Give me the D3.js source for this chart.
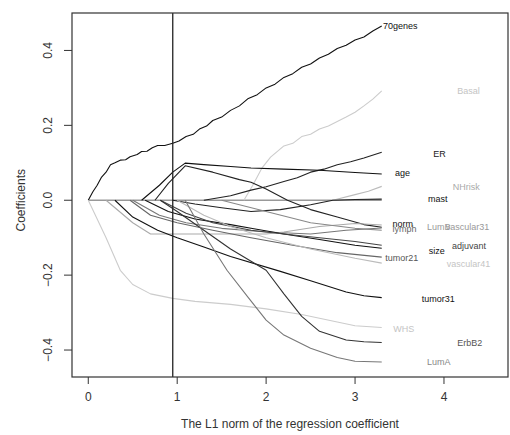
<!DOCTYPE html>
<html lang="en">
<head>
  <meta charset="utf-8" />
  <title>Coefficient paths</title>
  <script src="https://cdn.jsdelivr.net/npm/d3@7"></script>
  <style>
body{
  margin: 0;
  background: #fff;
}
svg{
  display: block;
  font-family: "Liberation Sans", Arial, sans-serif;
}
  </style>
</head>
<body>
  <svg id="chart"></svg>
  <script>
  // axis ticks
  const xTicks = [0, 1, 2, 3, 4];
  const yTicks = [-0.4, -0.2, 0.0, 0.2, 0.4];
  const cutNorm = 0.95;
  const zeroEnd = 3.3;

  // coefficient paths, [L1 norm, coefficient]
  const p70genes = [[0,0],[0.05,0.022],[0.1,0.04],[0.15,0.062],[0.2,0.075],[0.25,0.095],[0.3,0.1],[0.36,0.107],[0.42,0.108],[0.47,0.116],[0.55,0.122],[0.6,0.13],[0.66,0.131],[0.72,0.14],[0.78,0.146],[0.86,0.146],[0.95,0.152],[1.02,0.158],[1.1,0.17],[1.18,0.176],[1.25,0.19],[1.33,0.198],[1.4,0.213],[1.5,0.222],[1.6,0.24],[1.7,0.252],[1.8,0.272],[1.9,0.282],[2.0,0.3],[2.1,0.31],[2.2,0.328],[2.3,0.338],[2.4,0.355],[2.5,0.364],[2.6,0.38],[2.7,0.39],[2.8,0.405],[2.9,0.414],[3.0,0.428],[3.1,0.436],[3.2,0.452],[3.3,0.465]];
  const pBasal = [[1.75,0],[1.85,0.04],[1.95,0.085],[2.05,0.115],[2.2,0.145],[2.3,0.152],[2.4,0.17],[2.5,0.176],[2.6,0.19],[2.7,0.198],[2.8,0.21],[2.9,0.222],[3.0,0.235],[3.1,0.252],[3.2,0.27],[3.3,0.292]];
  const pER = [[1.3,0],[1.6,0.012],[1.83,0.027],[2.0,0.036],[2.2,0.05],[2.35,0.06],[2.5,0.075],[2.65,0.083],[2.8,0.095],[2.95,0.103],[3.1,0.113],[3.3,0.128]];
  const pAge = [[0.6,0],[0.8,0.04],[0.95,0.075],[1.09,0.099],[1.3,0.095],[1.6,0.09],[1.83,0.086],[2.2,0.083],[2.6,0.08],[3.0,0.074],[3.3,0.07]];
  const pNHrisk = [[2.75,0],[3.0,0.015],[3.15,0.024],[3.3,0.037]];
  const pMast = [[0.95,0],[1.2,-0.01],[1.5,-0.02],[1.83,-0.03],[2.16,-0.025],[2.5,-0.012],[2.75,0],[3.0,0.002],[3.3,0.003]];
  const pNorm = [[0.75,0],[0.9,0.045],[1.09,0.092],[1.4,0.075],[1.7,0.055],[1.83,0.048],[2.0,0.03],[2.24,0],[2.5,-0.025],[2.8,-0.045],[3.1,-0.065],[3.3,-0.072]];
  const pLymph = [[0.5,0],[0.8,-0.04],[1.1,-0.06],[1.5,-0.075],[2.0,-0.085],[2.5,-0.09],[2.9,-0.08],[3.3,-0.074]];
  const pLumB = [[0.2,0],[0.5,-0.06],[0.7,-0.09],[1.0,-0.09],[1.5,-0.09],[2.0,-0.09],[2.2,-0.085],[2.6,-0.07],[3.0,-0.062],[3.3,-0.066]];
  const pVascular31 = [[1.5,0],[2.0,-0.03],[2.5,-0.06],[3.0,-0.075],[3.3,-0.08]];
  const pSize = [[0.64,0],[0.9,-0.03],[1.2,-0.05],[1.6,-0.065],[1.83,-0.075],[2.2,-0.09],[2.6,-0.105],[3.0,-0.12],[3.3,-0.128]];
  const pAdjuvant = [[0.81,0],[1.1,-0.035],[1.4,-0.06],[1.83,-0.08],[2.2,-0.09],[2.6,-0.1],[3.0,-0.11],[3.3,-0.12]];
  const pTumor21 = [[0.47,0],[0.7,-0.04],[1.0,-0.06],[1.4,-0.08],[1.83,-0.1],[2.3,-0.12],[2.8,-0.14],[3.3,-0.152]];
  const pVascular41 = [[1.0,0],[1.3,-0.04],[1.6,-0.07],[2.0,-0.1],[2.5,-0.13],[3.0,-0.155],[3.3,-0.168]];
  const pTumor31 = [[0.3,0],[0.5,-0.045],[0.78,-0.08],[1.0,-0.1],[1.3,-0.125],[1.6,-0.15],[2.16,-0.19],[2.5,-0.215],[2.9,-0.245],[3.1,-0.255],[3.3,-0.26]];
  const pWHS = [[0,0],[0.1,-0.05],[0.2,-0.1],[0.36,-0.187],[0.5,-0.225],[0.7,-0.25],[0.95,-0.262],[1.2,-0.27],[1.6,-0.278],[2.0,-0.29],[2.4,-0.305],[2.8,-0.325],[3.0,-0.335],[3.3,-0.34]];
  const pErbB2 = [[0.81,0],[1.0,-0.03],[1.3,-0.08],[1.6,-0.13],[2.0,-0.187],[2.2,-0.25],[2.4,-0.31],[2.6,-0.35],[2.9,-0.373],[3.1,-0.378],[3.3,-0.38]];
  const pLumA = [[1.09,0],[1.3,-0.09],[1.56,-0.187],[1.8,-0.26],[2.0,-0.32],[2.2,-0.36],[2.5,-0.395],[2.8,-0.42],[3.0,-0.43],[3.3,-0.432]];

  // label text and where it sits, [L1 norm, coefficient]
  const labelNames = ['70genes','Basal','ER','age','NHrisk','mast','norm','lymph','LumB','vascular31','adjuvant','size','tumor21','vascular41','tumor31','WHS','ErbB2','LumA'];
  const labelAt = [[3.315,0.467],[4.15,0.293],[3.88,0.125],[3.45,0.072],[4.10,0.035],[3.82,0.005],[3.42,-0.062],[3.42,-0.077],[3.81,-0.072],[4.02,-0.072],[4.09,-0.122],[3.83,-0.135],[3.34,-0.155],[4.03,-0.171],[3.75,-0.264],[3.43,-0.344],[4.15,-0.381],[3.81,-0.432]];

  const series = [
    {name: '70genes', pts: p70genes, color: '#111'},
    {name: 'Basal', pts: pBasal, color: '#ccc'},
    {name: 'ER', pts: pER, color: '#222'},
    {name: 'age', pts: pAge, color: '#111'},
    {name: 'NHrisk', pts: pNHrisk, color: '#bbb'},
    {name: 'mast', pts: pMast, color: '#222'},
    {name: 'norm', pts: pNorm, color: '#222'},
    {name: 'lymph', pts: pLymph, color: '#777'},
    {name: 'LumB', pts: pLumB, color: '#aaa'},
    {name: 'vascular31', pts: pVascular31, color: '#888'},
    {name: 'size', pts: pSize, color: '#111'},
    {name: 'adjuvant', pts: pAdjuvant, color: '#444'},
    {name: 'tumor21', pts: pTumor21, color: '#666'},
    {name: 'vascular41', pts: pVascular41, color: '#bbb'},
    {name: 'tumor31', pts: pTumor31, color: '#111'},
    {name: 'WHS', pts: pWHS, color: '#ccc'},
    {name: 'ErbB2', pts: pErbB2, color: '#333'},
    {name: 'LumA', pts: pLumA, color: '#777'}
  ];

  const labelColor = {
    '70genes': '#111', Basal: '#c4c4c4', ER: '#222', age: '#111', NHrisk: '#aaa',
    mast: '#111', norm: '#111', lymph: '#666', LumB: '#999', vascular31: '#999',
    adjuvant: '#444', size: '#111', tumor21: '#555', vascular41: '#c4c4c4',
    tumor31: '#111', WHS: '#c4c4c4', ErbB2: '#555', LumA: '#888'
  };

  const W = 510, H = 435;
  const box = {left: 72, top: 13, right: 508, bottom: 377};

  const svg = d3.select('#chart').attr('width', W).attr('height', H);

  const x = d3.scaleLinear().domain([-0.183, 4.72]).range([box.left, box.right]);
  const y = d3.scaleLinear().domain([-0.472, 0.5]).range([box.bottom, box.top]);

  const line = d3.line().x(d => x(d[0])).y(d => y(d[1]));

  // zero line, paths that stay at zero
  svg.append('line')
      .attr('x1', x(0)).attr('x2', x(zeroEnd))
      .attr('y1', y(0)).attr('y2', y(0))
      .attr('stroke', '#999')
      .attr('stroke-width', 1.6);

  svg.append('g')
      .attr('fill', 'none')
    .selectAll('path')
    .data(series)
    .enter().append('path')
      .attr('d', d => line(d.pts))
      .attr('stroke', d => d.color)
      .attr('stroke-width', 1.1)
      .attr('stroke-linejoin', 'round');

  // chosen model
  svg.append('line')
      .attr('x1', x(cutNorm)).attr('x2', x(cutNorm))
      .attr('y1', box.top).attr('y2', box.bottom)
      .attr('stroke', '#222')
      .attr('stroke-width', 1.3);

  svg.append('g')
      .attr('font-size', 9)
    .selectAll('text')
    .data(labelNames)
    .enter().append('text')
      .attr('x', (d, i) => x(labelAt[i][0]))
      .attr('y', (d, i) => y(labelAt[i][1]))
      .attr('dy', '0.35em')
      .attr('fill', d => labelColor[d])
      .text(d => d);

  // frame
  svg.append('rect')
      .attr('x', box.left).attr('y', box.top)
      .attr('width', box.right - box.left)
      .attr('height', box.bottom - box.top)
      .attr('fill', 'none')
      .attr('stroke', '#333')
      .attr('stroke-width', 1.2);

  const xAxis = svg.append('g');
  xAxis.selectAll('line').data(xTicks).enter().append('line')
      .attr('x1', d => x(d)).attr('x2', d => x(d))
      .attr('y1', box.bottom).attr('y2', box.bottom + 7)
      .attr('stroke', '#333');
  xAxis.selectAll('text').data(xTicks).enter().append('text')
      .attr('x', d => x(d))
      .attr('y', 401)
      .attr('text-anchor', 'middle')
      .attr('font-size', 12)
      .attr('fill', '#333')
      .text(d => d);

  const yAxis = svg.append('g');
  yAxis.selectAll('line').data(yTicks).enter().append('line')
      .attr('x1', box.left - 8).attr('x2', box.left)
      .attr('y1', d => y(d)).attr('y2', d => y(d))
      .attr('stroke', '#333');
  yAxis.selectAll('text').data(yTicks).enter().append('text')
      .attr('transform', d => `translate(48,${y(d)}) rotate(-90)`)
      .attr('text-anchor', 'middle')
      .attr('dy', '0.35em')
      .attr('font-size', 12)
      .attr('fill', '#333')
      .text(d => d3.format('.1f')(d).replace('-', '\u2212'));

  svg.append('text')
      .attr('x', 290)
      .attr('y', 428)
      .attr('text-anchor', 'middle')
      .attr('font-size', 12)
      .attr('fill', '#333')
      .text('The L1 norm of the regression coefficient');

  svg.append('text')
      .attr('transform', `translate(21,${y(0)}) rotate(-90)`)
      .attr('text-anchor', 'middle')
      .attr('dy', '0.35em')
      .attr('font-size', 12)
      .attr('fill', '#333')
      .text('Coefficients');
  </script>
</body>
</html>
